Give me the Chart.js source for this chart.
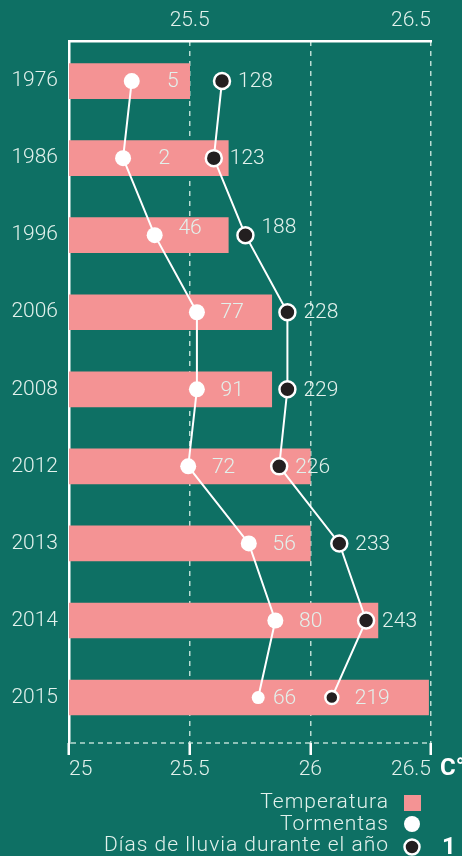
<!DOCTYPE html>
<html>
<head>
<meta charset="utf-8">
<script src="https://cdn.jsdelivr.net/npm/chart.js@4/dist/chart.umd.min.js"></script>
<style>
  html, body { margin: 0; padding: 0; background: #0e7064; }
  #wrap { width: 462px; height: 856px; position: relative; }
</style>
</head>
<body>
<div id="wrap"><canvas id="myChart"></canvas></div>
<script>
var years = ['1976', '1986', '1996', '2006', '2008', '2012', '2013', '2014', '2015'];
var temperatura = [25.5, 25.66, 25.66, 25.84, 25.84, 26.0, 26.0, 26.28, 26.49];
var tormentas = [5, 2, 46, 77, 91, 72, 56, 80, 66];
var tormentasPos = [25.26, 25.224, 25.355, 25.53, 25.53, 25.494, 25.745, 25.855, 25.784];
var lluvia = [128, 123, 188, 228, 229, 226, 233, 243, 219];
var lluviaPos = [25.634, 25.6, 25.731, 25.905, 25.905, 25.871, 26.12, 26.231, 26.089];
var xTicks = [25, 25.5, 26, 26.5];

var pink = '#f49394';
var txt = '#e2f1ec';
var gridCol = 'rgba(215, 238, 230, 0.85)';
var fontFam = 'Roboto, "DejaVu Sans", sans-serif';

Chart.defaults.font.family = fontFam;
Chart.defaults.font.size = 21;
Chart.defaults.font.weight = 300;
Chart.defaults.color = txt;

function pts(vals) {
  return vals.map(function(v, i) { return {x: v, y: i}; });
}

var valueLabels = {
  id: 'valueLabels',
  afterDatasetsDraw: function(chart) {
    var ctx = chart.ctx;
    ctx.save();
    ctx.font = '300 21px ' + fontFam;
    ctx.fillStyle = txt;
    ctx.textBaseline = 'middle';
    chart.getDatasetMeta(1).data.forEach(function(p, i) {
      var r = p.options.radius;
      ctx.textAlign = 'right';
      ctx.fillText(tormentas[i], p.x + (r > 7 ? 47 : 38), p.y + (i === 2 ? -6 : 1));
    });
    chart.getDatasetMeta(2).data.forEach(function(p, i) {
      var r = p.options.radius;
      ctx.textAlign = 'left';
      ctx.fillText(lluvia[i], p.x + (r > 7 ? 16 : 23), p.y + (i === 2 ? -7 : 1));
    });
    ctx.restore();
  }
};

var extras = {
  id: 'extras',
  afterDraw: function(chart) {
    var ctx = chart.ctx, a = chart.chartArea;
    ctx.save();
    // dashed bottom line
    ctx.strokeStyle = gridCol;
    ctx.lineWidth = 1.5;
    ctx.setLineDash([5, 4]);
    ctx.beginPath();
    ctx.moveTo(a.left + 2, a.bottom);
    ctx.lineTo(a.right, a.bottom);
    ctx.stroke();
    ctx.setLineDash([]);

    ctx.fillStyle = '#ffffff';
    ctx.font = 'bold 24px ' + fontFam;
    ctx.textAlign = 'left';
    ctx.textBaseline = 'middle';
    ctx.fillText('C°', 440, 769);
    ctx.fillText('1', 442, 848);

    // legend
    ctx.font = '300 21px ' + fontFam;
    ctx.letterSpacing = '1px';
    ctx.fillStyle = txt;
    ctx.textAlign = 'right';
    ctx.fillText('Temperatura', 389, 803);
    ctx.fillText('Tormentas', 389, 825);
    ctx.fillText('Días de lluvia durante el año', 389, 846);
    ctx.letterSpacing = '0px';

    ctx.fillStyle = pink;
    ctx.fillRect(404, 795, 17, 16);
    ctx.fillStyle = '#ffffff';
    ctx.beginPath();
    ctx.arc(412, 824, 8, 0, Math.PI * 2);
    ctx.fill();
    ctx.beginPath();
    ctx.arc(412, 847, 7.5, 0, Math.PI * 2);
    ctx.fillStyle = '#231f20';
    ctx.fill();
    ctx.lineWidth = 2.5;
    ctx.strokeStyle = '#ffffff';
    ctx.stroke();
    ctx.restore();
  }
};

var ctx = document.getElementById('myChart').getContext('2d');
var myChart = new Chart(ctx, {
  type: 'bar',
  data: {
    datasets: [
      {
        type: 'bar',
        label: 'Temperatura',
        data: pts(temperatura),
        backgroundColor: pink,
        borderWidth: 0,
        barThickness: 35,
        order: 3
      },
      {
        type: 'line',
        label: 'Tormentas',
        data: pts(tormentasPos),
        borderColor: '#ffffff',
        borderWidth: 2,
        pointRadius: [8, 8, 8, 8, 8, 8, 8, 8, 6.5],
        pointBackgroundColor: '#ffffff',
        pointBorderWidth: 0,
        tension: 0,
        order: 2
      },
      {
        type: 'line',
        label: 'Días de lluvia durante el año',
        data: pts(lluviaPos),
        borderColor: '#ffffff',
        borderWidth: 2,
        pointRadius: [8, 8, 8, 8, 8, 8, 8, 8, 6.5],
        pointBackgroundColor: '#231f20',
        pointBorderColor: '#ffffff',
        pointBorderWidth: 2.5,
        tension: 0,
        order: 1
      }
    ]
  },
  options: {
    indexAxis: 'y',
    responsive: true,
    maintainAspectRatio: false,
    animation: false,
    layout: { padding: { left: 0, right: 31, top: 0, bottom: 0 } },
    plugins: {
      legend: { display: false },
      tooltip: { enabled: false }
    },
    scales: {
      y: {
        type: 'linear',
        position: 'left',
        reverse: true,
        offset: false,
        min: -0.52,
        max: 8.59,
        afterBuildTicks: function(s) {
          s.ticks = years.map(function(y, i) { return {value: i}; });
        },
        afterFit: function(s) { s.width = 69; },
        ticks: {
          padding: 11,
          color: txt,
          callback: function(v) { return years[v]; }
        },
        grid: { display: false, drawTicks: false, offset: false },
        border: { display: true, color: '#ffffff', width: 2.5 }
      },
      x: {
        type: 'linear',
        position: 'bottom',
        min: 25,
        max: 26.5,
        beginAtZero: false,
        afterBuildTicks: function(s) {
          s.ticks = xTicks.map(function(v) { return {value: v}; });
        },
        afterFit: function(s) { s.height = 113; },
        ticks: {
          align: 'inner',
          padding: 2,
          color: txt,
          callback: function(v) { return String(v); }
        },
        grid: {
          color: function(c) { return c.index === 0 ? 'rgba(0,0,0,0)' : gridCol; },
          lineWidth: 1.5,
          tickColor: '#ffffff',
          tickWidth: 2.5,
          tickLength: 12,
          tickBorderDash: []
        },
        border: { display: false, dash: [5, 5] }
      },
      x2: {
        type: 'linear',
        position: 'top',
        min: 25,
        max: 26.5,
        afterBuildTicks: function(s) {
          s.ticks = xTicks.map(function(v) { return {value: v}; });
        },
        afterFit: function(s) { s.height = 41; },
        ticks: {
          align: 'inner',
          padding: 8,
          color: txt,
          callback: function(v) { return (v === 25.5 || v === 26.5) ? String(v) : ''; }
        },
        grid: { display: false, drawTicks: false },
        border: { display: true, color: '#ffffff', width: 2.5 }
      }
    }
  },
  plugins: [valueLabels, extras]
});
</script>
</body>
</html>
